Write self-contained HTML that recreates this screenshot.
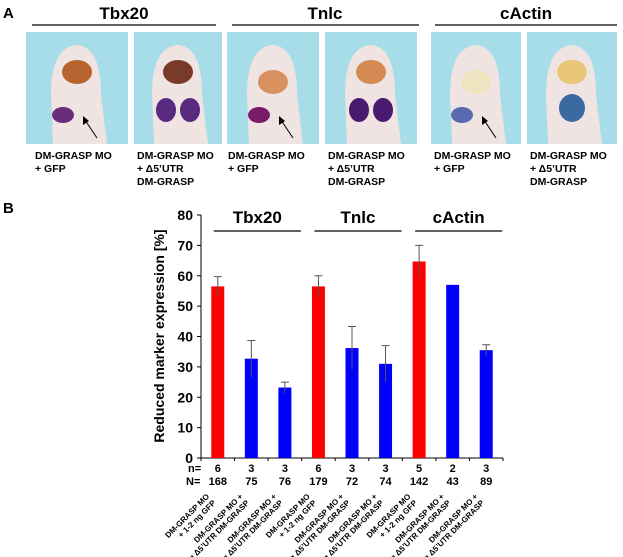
<!DOCTYPE html>
<html><head><meta charset="utf-8"><style>
body{margin:0;background:#fff;width:623px;height:557px;overflow:hidden;font-family:"Liberation Sans",Arial,sans-serif}
svg{display:block}
text{font-family:"Liberation Sans",Arial,sans-serif;font-weight:bold}
</style></head><body>
<svg id="fig" width="623" height="557" viewBox="0 0 623 557">
<g id="panelA">
<text x="3" y="18" font-size="15">A</text>
<text x="124" y="19" font-size="17" text-anchor="middle">Tbx20</text>
<text x="325" y="19" font-size="17" text-anchor="middle">Tnlc</text>
<text x="526" y="19" font-size="17" text-anchor="middle">cActin</text>
<line x1="32" y1="25" x2="216" y2="25" stroke="#000" stroke-width="1.3"/>
<line x1="232" y1="25" x2="419" y2="25" stroke="#000" stroke-width="1.3"/>
<line x1="435" y1="25" x2="617" y2="25" stroke="#000" stroke-width="1.3"/>
</g>
<g id="photos"></g>
<g id="chart"></g>
</svg>
<script>
const NS='http://www.w3.org/2000/svg';
function mk(p,tag,attrs,txt){const e=document.createElementNS(NS,tag);for(const k in attrs)e.setAttribute(k,attrs[k]);if(txt!==undefined)e.textContent=txt;p.appendChild(e);return e;}

// ---- Panel A photos ----
const photoX=[26,134,227,325,431,527];
const photoW=[102,88,92,92,90,90];
const headCol=['#b8642e','#7a3a2a','#d99160','#d48a52','#f0e3c0','#e8c878'];
const spotCol=['#6a2d7a','#5a2a80','#7a1b6a','#4a1a70','#5a6ab0','#3a6aa0'];
const photos=document.getElementById('photos');
photoX.forEach((x,i)=>{
  const g=mk(photos,'g',{});
  
  
  const w=photoW[i],cx=x+w/2;
  mk(g,'rect',{x:x,y:32,width:w,height:112,fill:'#a6dde9'});
  mk(g,'path',{d:`M${cx-24},144 L${cx-26},95 Q${cx-26},47 ${cx},45 Q${cx+24},47 ${cx+24},95 L${cx+30},144 Z`,fill:'#efe4e2'});
  mk(g,'ellipse',{cx:cx,cy:(i===2||i===4)?82:72,rx:15,ry:12,fill:headCol[i]});
  if(i%2===0){
    mk(g,'ellipse',{cx:cx-14,cy:115,rx:11,ry:8,fill:spotCol[i]});
    mk(g,'line',{x1:cx+20,y1:138,x2:cx+8,y2:120,stroke:'#000','stroke-width':1});
    mk(g,'path',{d:`M${cx+6},116 l0,9 l6,-4 Z`,fill:'#000'});
  } else if(i===5){
    mk(g,'ellipse',{cx:cx,cy:108,rx:13,ry:14,fill:spotCol[i]});
  } else {
    mk(g,'ellipse',{cx:cx-12,cy:110,rx:10,ry:12,fill:spotCol[i]});
    mk(g,'ellipse',{cx:cx+12,cy:110,rx:10,ry:12,fill:spotCol[i]});
  }
  const lines=(i%2===0)?['DM-GRASP MO','+ GFP']:['DM-GRASP MO','+ \u03945\u2019UTR','DM-GRASP'];
  lines.forEach((t,j)=>{
    const tx=mk(g,'text',{x:x+(i===0?9:(i===2?1:3)),y:159+j*13,'font-size':10.5},t);
    
    
  });
});

// ---- Panel B chart data ----
const categories=['DM-GRASP MO|+ 1-2 ng GFP','DM-GRASP MO +|1 ng \u03945\u2019UTR DM-GRASP','DM-GRASP MO +|2 ng \u03945\u2019UTR DM-GRASP','DM-GRASP MO|+ 1-2 ng GFP','DM-GRASP MO +|1 ng \u03945\u2019UTR DM-GRASP','DM-GRASP MO +|2 ng \u03945\u2019UTR DM-GRASP','DM-GRASP MO|+ 1-2 ng GFP','DM-GRASP MO +|1 ng \u03945\u2019UTR DM-GRASP','DM-GRASP MO +|2 ng \u03945\u2019UTR DM-GRASP'];
const values=[56.5,32.7,23.2,56.5,36.2,31.0,64.7,57.0,35.5];
const errors=[3.2,6.0,1.8,3.5,7.1,6.0,5.3,0,1.8];
const isControl=[true,false,false,true,false,false,true,false,false];
const nValues=['6','3','3','6','3','3','5','2','3'];
const NValues=['168','75','76','179','72','74','142','43','89'];
const yTicks=[0,10,20,30,40,50,60,70,80];
const groups=['Tbx20','Tnlc','cActin'];

const chart=document.getElementById('chart');
const X0=201,X1=503,Y0=458,Ymax=80,Ytop=215;
const slot=(X1-X0)/categories.length;
const xC=i=>X0+slot*(i+0.5);
const yS=v=>Y0-(v/Ymax)*(Y0-Ytop);
const barW=13;

const bl=mk(chart,'text',{x:3,y:213,'font-size':15},'B');



const yt=mk(chart,'text',{transform:'translate(164,336) rotate(-90)','font-size':14,'text-anchor':'middle'},'Reduced marker expression [%]');



const ya=mk(chart,'line',{x1:X0,y1:Ytop,x2:X0,y2:Y0,stroke:'#000','stroke-width':1});


const xa=mk(chart,'line',{x1:X0,y1:Y0,x2:X1,y2:Y0,stroke:'#000','stroke-width':1});



yTicks.forEach(v=>{
  const y=yS(v);
  const t=mk(chart,'line',{x1:X0-4,y1:y,x2:X0,y2:y,stroke:'#000'});
  
  
  const l=mk(chart,'text',{x:X0-8,y:y+5,'font-size':14,'text-anchor':'end'},String(v));
  
  
});
for(let i=0;i<=categories.length;i++){
  const t=mk(chart,'line',{x1:X0+slot*i,y1:Y0,x2:X0+slot*i,y2:Y0+3,stroke:'#000'});
  
  
}

groups.forEach((g,k)=>{
  const a=xC(k*3)-4,b=xC(k*3+2)+16;
  const l=mk(chart,'line',{x1:a,y1:231,x2:b,y2:231,stroke:'#000','stroke-width':1.2});
  
  
  const t=mk(chart,'text',{x:(a+b)/2,y:223,'font-size':17,'text-anchor':'middle'},g);
  
  
});

values.forEach((v,i)=>{
  const cx=xC(i);
  const r=mk(chart,'rect',{x:cx-barW/2,y:yS(v),width:barW,height:Y0-yS(v),fill:isControl[i]?'#f00':'#00f'});
  
  
  if(errors[i]>0){
    const e=mk(chart,'path',{d:`M${cx},${yS(v-errors[i])}V${yS(v+errors[i])}M${cx-4},${yS(v+errors[i])}H${cx+4}`,stroke:'#555','stroke-width':1,fill:'none'});
    
    
  }
  const n=mk(chart,'text',{x:cx,y:472,'font-size':11,'text-anchor':'middle'},nValues[i]);
  
  
  const N=mk(chart,'text',{x:cx,y:485,'font-size':11,'text-anchor':'middle'},NValues[i]);
  
  
  const parts=categories[i].split('|');
  const g=mk(chart,'g',{transform:`translate(${cx-8},497) rotate(-45)`});
  
  
  mk(g,'text',{x:0,y:0,'font-size':8,'text-anchor':'end'},parts[0]);
  mk(g,'text',{x:0,y:9,'font-size':8,'text-anchor':'end'},parts[1]);
});
const nl=mk(chart,'text',{x:188,y:472,'font-size':11},'n=');


const Nl=mk(chart,'text',{x:186,y:485,'font-size':11},'N=');


</script>
</body></html>
